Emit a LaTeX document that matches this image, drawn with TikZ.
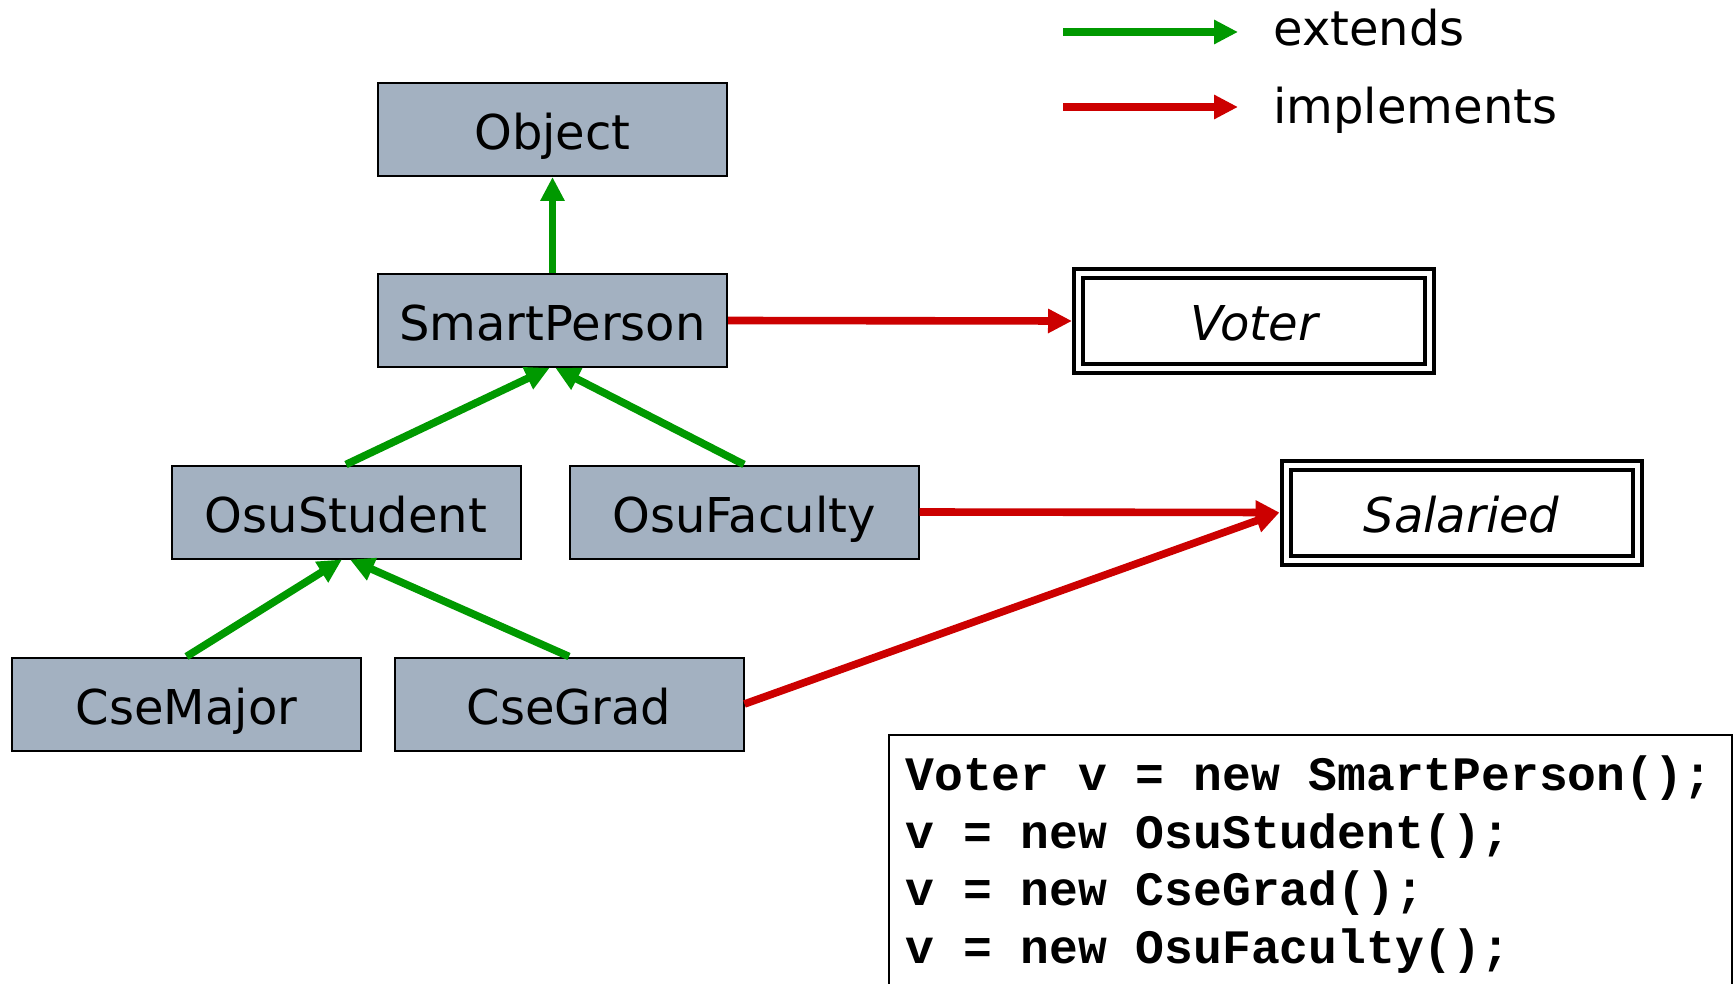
\documentclass[tikz,border=0pt]{standalone}
\usepackage{fontspec}
\setmainfont{DejaVu Sans}
\setmonofont{Liberation Mono}
\usetikzlibrary{arrows.meta}

\definecolor{classfill}{RGB}{163,177,193}
\definecolor{extgreen}{RGB}{0,153,0}
\definecolor{implred}{RGB}{204,0,0}

\begin{document}
\begin{tikzpicture}[x=0.5pt, y=-0.5pt,
  labelfont/.style={font=\fontsize{24pt}{28pt}\selectfont},
  classbox/.style={draw=black, line width=1pt, fill=classfill,
    minimum width=174.5pt, minimum height=46.5pt, inner sep=0pt,
    labelfont, text height=20.5pt, text depth=0pt},
  ifacebox/.style={draw=black, line width=2pt, double=white,
    double distance=2.5pt, minimum width=175.5pt, minimum height=47.5pt,
    inner sep=0pt, outer sep=3.25pt,
    font=\fontsize{24pt}{28pt}\selectfont\itshape,
    text height=20pt, text depth=0pt},
  extends/.style={draw=extgreen, line width=3.8pt,
    -{Triangle[length=12pt,width=11.5pt]}},
  implements/.style={draw=implred, line width=3.8pt,
    -{Triangle[length=12pt,width=11.5pt]}},
  codeline/.style={anchor=base west, inner sep=0pt,
    font=\fontsize{24pt}{28pt}\selectfont\ttfamily\bfseries}
]
\useasboundingbox (0,0) rectangle (1736,984);
\fill[white] (0,0) rectangle (1736,984);

% class hierarchy
\node[classbox] (Object)      at (552.5,129.5) {Object};
\node[classbox] (SmartPerson) at (552.5,320.5) {SmartPerson};
\node[classbox] (OsuStudent)  at (346,512)     {OsuStudent};
\node[classbox] (OsuFaculty)  at (744,512)     {OsuFaculty};
\node[classbox] (CseMajor)    at (186.5,704)   {CseMajor};
\node[classbox] (CseGrad)     at (569,704)     {CseGrad};

% interfaces
\node[ifacebox] (Voter)    at (1254,321)    {Voter};
\node[ifacebox] (Salaried) at (1461.5,512.5) {Salaried};

% extends relations
\draw[extends] (SmartPerson.north) -- (Object.south);
\draw[extends] (OsuStudent.north) -- ([xshift=-1.5pt]SmartPerson.south);
\draw[extends] (OsuFaculty.north) -- ([xshift=1.5pt]SmartPerson.south);
\draw[extends] (CseMajor.north) -- ([xshift=-2pt]OsuStudent.south);
\draw[extends] (CseGrad.north) -- ([xshift=2pt]OsuStudent.south);

% implements relations
\draw[implements] (SmartPerson.east) -- (Voter.west);
\draw[implements] (OsuFaculty.east) -- (Salaried.west);
\draw[implements] (CseGrad.east) -- (Salaried.west);

% legend
\coordinate (extA) at (1063,32);
\coordinate (extB) at (1238,32);
\coordinate (impA) at (1063,107);
\coordinate (impB) at (1238,107);
\draw[extends] (extA) -- (extB);
\draw[implements] (impA) -- (impB);
\node[labelfont, anchor=base west, inner sep=0pt] (extText) at (1273,46) {extends};
\node[labelfont, anchor=base west, inner sep=0pt] (impText) at (1273,124) {implements};

% code sample
\node[draw=black, line width=1pt, anchor=north west, inner sep=0pt,
  minimum width=421.5pt, minimum height=200pt] (codebox) at (888,734) {};
\node[codeline] (code1) at (905,790) {Voter v = new SmartPerson();};
\node[codeline] (code2) at (905,848) {v = new OsuStudent();};
\node[codeline] (code3) at (905,905) {v = new CseGrad();};
\node[codeline] (code4) at (905,963) {v = new OsuFaculty();};
\end{tikzpicture}
\end{document}
